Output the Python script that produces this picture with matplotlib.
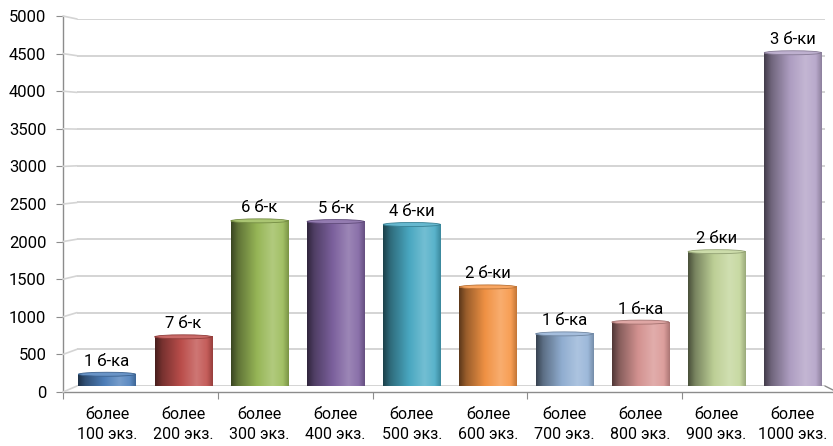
import numpy as np
import matplotlib
matplotlib.use("Agg")
import matplotlib.pyplot as plt
from matplotlib.colors import to_rgb
from matplotlib.patches import Ellipse, ConnectionPatch

# ---- data ----
categories = ["более\n100 экз.", "более\n200 экз.", "более\n300 экз.", "более\n400 экз.",
              "более\n500 экз.", "более\n600 экз.", "более\n700 экз.", "более\n800 экз.",
              "более\n900 экз.", "более\n1000 экз."]
values = [160, 670, 2250, 2240, 2200, 1350, 710, 870, 1830, 4540]
bar_labels = ["1 б-ка", "7 б-к", "6 б-к", "5 б-к", "4 б-ки", "2 б-ки", "1 б-ка", "1 б-ка",
              "2 бки", "3 б-ки"]
colors = ["#4F81BD", "#C0504D", "#9BBB59", "#8064A2", "#4BACC6", "#F79646",
          "#95B3D7", "#D99694", "#C3D69B", "#B3A2C7"]
y_ticks = list(range(0, 5001, 500))

plt.rcParams['font.family'] = ['Roboto', 'DejaVu Sans']

W, H = 833, 446
fig = plt.figure(figsize=(W / 100, H / 100), dpi=100)


def rect(x0, ytop, x1, ybot):
    return [x0 / W, (H - ybot) / H, (x1 - x0) / W, (ybot - ytop) / H]


# back wall (main) axes
xl0 = -(107 - 77) / 76.2
xl1 = (825 - 107) / 76.2
ax = fig.add_axes(rect(77, 19, 825, 386))
ax.set_xlim(xl0, xl1)
ax.set_ylim(0, 5000)
for s in ax.spines.values():
    s.set_visible(False)
ax.set_yticks(y_ticks)
ax.set_yticklabels([])
ax.tick_params(axis='y', length=0)
ax.grid(axis='y', color='#d4d4d4', lw=1.4)
ax.set_axisbelow(True)
ax.patch.set_alpha(0)

x = np.arange(len(values))
bw = 0.75
bars = ax.bar(x, values, bw, color=colors, zorder=2)


def shade(c, f):
    c = np.array(c)
    if f < 1:
        return c * f
    return c + (1 - c) * (f - 1)


stops = [0.0, 0.12, 0.45, 0.72, 0.9, 1.0]
facts = [0.38, 0.62, 0.97, 1.22, 1.08, 0.8]
N = 64
pos = np.linspace(0, 1, N)
for rectp, c in zip(bars.patches, colors):
    base = to_rgb(c)
    cols = np.array([shade(base, f) for f in facts])
    grad = np.stack([np.interp(pos, stops, cols[:, k]) for k in range(3)], axis=-1)
    grad = np.clip(grad, 0, 1)[None, :, :]
    bx, by = rectp.get_x(), rectp.get_y()
    w, h = rectp.get_width(), rectp.get_height()
    ax.imshow(grad, extent=[bx, bx + w, by, by + h], aspect='auto',
              interpolation='bilinear', zorder=3)
    eh = 4 * 5000 / 367
    ax.add_patch(Ellipse((bx + w / 2, by + h), w, eh, facecolor=shade(base, 1.15),
                         edgecolor=shade(base, 0.75), lw=0.6, zorder=4))
ax.set_aspect('auto')
ax.set_xlim(xl0, xl1)
ax.set_ylim(0, 5000)

for xi, v, lab in zip(x, values, bar_labels):
    ax.annotate(lab, (xi, v), xytext=(0, 4), textcoords='offset points',
                ha='center', va='bottom', fontsize=12, color='#000000', zorder=5)

ax.set_xticks(x)
ax.set_xticklabels(categories, fontsize=11.5, linespacing=1.4)
ax.tick_params(axis='x', length=0, pad=15)

# front axes (value axis + floor edge)
ax2 = fig.add_axes(rect(63, 16, 63 + 774, 392))
ax2.set_xlim(-0.5, 9.5)
ax2.set_ylim(0, 5000)
ax2.patch.set_alpha(0)
ax2.spines['top'].set_visible(False)
ax2.spines['right'].set_visible(False)
for s in ('left', 'bottom'):
    ax2.spines[s].set_color('#8c8c8c')
    ax2.spines[s].set_linewidth(1.0)
ax2.set_yticks(y_ticks)
ax2.set_yticklabels([str(t) for t in y_ticks], fontsize=12)
ax2.set_xticks([-0.5, 1.5, 3.5, 5.5, 7.5])
ax2.set_xticklabels([])
ax2.tick_params(axis='y', length=5, color='#8c8c8c', pad=7, direction='out')
ax2.tick_params(axis='x', length=5, color='#8c8c8c', direction='out')

# perspective connectors between front axis and back wall
for t in y_ticks:
    con = ConnectionPatch(xyA=(-0.5, t), coordsA=ax2.transData,
                          xyB=(xl0, t), coordsB=ax.transData,
                          color='#d4d4d4', lw=1.2)
    fig.add_artist(con)
con = ConnectionPatch(xyA=(9.5, 0), coordsA=ax2.transData,
                      xyB=(xl1, 0), coordsB=ax.transData, color='#8c8c8c', lw=1.0)
fig.add_artist(con)

fig.savefig("out.png", dpi=100)
